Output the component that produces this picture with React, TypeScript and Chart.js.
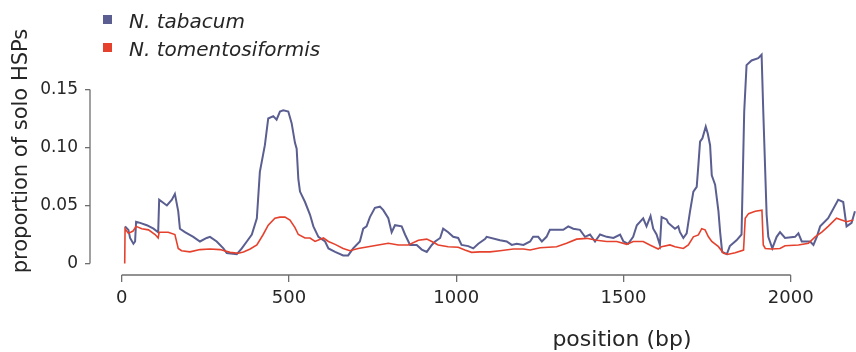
import React, { useEffect, useRef } from "react";
import { Chart, registerables } from "chart.js";

Chart.register(...registerables);

// N. tabacum: position (bp) and proportion of solo HSPs
const tabacumPos = [10,20,25,35,40,43,55,75,95,109,112,135,150,159,169,174,189,214,234,254,264,284,304,314,344,359,374,389,404,413,428,438,453,463,473,483,498,508,518,523,528,533,548,563,573,588,608,618,638,662,677,692,712,722,732,742,757,772,782,797,807,817,837,847,862,882,897,912,927,937,952,961,976,991,1006,1016,1036,1051,1066,1086,1091,1131,1151,1166,1181,1201,1221,1230,1245,1256,1270,1280,1300,1320,1335,1350,1370,1385,1400,1415,1430,1450,1470,1490,1500,1514,1529,1540,1559,1569,1581,1589,1599,1609,1614,1629,1634,1654,1664,1669,1679,1689,1699,1709,1719,1724,1729,1736,1746,1752,1759,1764,1774,1784,1789,1795,1809,1818,1838,1853,1861,1868,1883,1903,1913,1918,1928,1933,1945,1958,1968,1983,2013,2023,2033,2058,2068,2078,2088,2112,2142,2157,2167,2182,2192];
const tabacumVal = [0.032,0.029,0.022,0.017,0.019,0.036,0.035,0.033,0.030,0.027,0.055,0.050,0.055,0.060,0.045,0.030,0.027,0.023,0.019,0.022,0.023,0.019,0.013,0.009,0.008,0.013,0.019,0.025,0.039,0.079,0.102,0.125,0.127,0.124,0.131,0.132,0.131,0.121,0.104,0.099,0.073,0.062,0.053,0.042,0.032,0.023,0.019,0.013,0.010,0.007,0.007,0.013,0.019,0.030,0.032,0.040,0.048,0.049,0.046,0.039,0.027,0.033,0.032,0.025,0.016,0.016,0.012,0.010,0.016,0.019,0.022,0.030,0.027,0.023,0.022,0.016,0.015,0.013,0.017,0.021,0.023,0.020,0.019,0.016,0.017,0.016,0.019,0.023,0.023,0.019,0.023,0.029,0.029,0.029,0.032,0.030,0.029,0.023,0.025,0.019,0.025,0.023,0.022,0.025,0.019,0.017,0.023,0.033,0.039,0.032,0.041,0.030,0.025,0.016,0.040,0.038,0.035,0.030,0.032,0.027,0.022,0.026,0.045,0.062,0.066,0.085,0.105,0.108,0.118,0.112,0.102,0.076,0.068,0.045,0.027,0.010,0.008,0.015,0.020,0.025,0.131,0.171,0.175,0.177,0.180,0.131,0.042,0.023,0.013,0.023,0.027,0.022,0.023,0.026,0.019,0.019,0.016,0.023,0.032,0.039,0.055,0.053,0.032,0.035,0.045];

// N. tomentosiformis
const tomentPos = [9,10,20,34,43,60,80,100,109,112,139,159,169,179,204,234,264,294,324,349,364,384,404,423,438,458,473,488,503,518,528,548,563,578,603,618,638,662,682,707,737,767,797,827,857,887,912,927,946,976,1006,1026,1046,1071,1101,1131,1171,1201,1221,1251,1300,1330,1360,1390,1420,1450,1480,1510,1529,1559,1579,1604,1614,1639,1654,1679,1694,1709,1724,1734,1744,1754,1764,1784,1799,1814,1834,1859,1864,1874,1894,1914,1918,1924,1943,1968,1983,2023,2053,2073,2093,2112,2137,2152,2167,2187];
const tomentVal = [0,0.030,0.026,0.028,0.032,0.030,0.029,0.025,0.022,0.027,0.027,0.025,0.013,0.011,0.010,0.012,0.0125,0.012,0.0096,0.0088,0.010,0.0125,0.016,0.025,0.033,0.039,0.040,0.040,0.0375,0.031,0.025,0.022,0.022,0.019,0.022,0.019,0.0165,0.013,0.011,0.013,0.0145,0.016,0.0174,0.016,0.016,0.020,0.021,0.019,0.016,0.0145,0.014,0.0116,0.0096,0.010,0.010,0.011,0.0125,0.0125,0.0116,0.0136,0.0145,0.0174,0.021,0.0217,0.020,0.019,0.019,0.0165,0.019,0.019,0.016,0.0125,0.0145,0.016,0.0145,0.013,0.016,0.023,0.0246,0.030,0.029,0.023,0.019,0.0145,0.0088,0.008,0.0093,0.0116,0.039,0.043,0.045,0.046,0.016,0.013,0.0125,0.013,0.0153,0.016,0.0174,0.023,0.027,0.032,0.039,0.0375,0.036,0.0375];

const xTicks = [0, 500, 1000, 1500, 2000];
const yTicks = [0, 0.05, 0.1, 0.15];
const seriesNames = ["N. tabacum", "N. tomentosiformis"];
const seriesColors = ["#5a5e90", "#e5412d"];

const AXIS_COLOR = "#6e6e6e";
const TEXT_COLOR = "#262626";
const FONT = "'DejaVu Sans', sans-serif";

const rAxesPlugin = {
  id: "rAxes",
  afterDraw(chart: any) {
    const { ctx, scales } = chart;
    const xs = scales.x;
    const ys = scales.y;
    ctx.save();
    ctx.strokeStyle = AXIS_COLOR;
    ctx.lineWidth = 1.3;
    // y axis line spanning tick range
    const ax = chart.chartArea.left;
    ctx.beginPath();
    ctx.moveTo(ax, ys.getPixelForValue(yTicks[0]));
    ctx.lineTo(ax, ys.getPixelForValue(yTicks[yTicks.length - 1]));
    ctx.stroke();
    // x axis line spanning tick range
    const ay = chart.chartArea.bottom;
    ctx.beginPath();
    ctx.moveTo(xs.getPixelForValue(xTicks[0]), ay);
    ctx.lineTo(xs.getPixelForValue(xTicks[xTicks.length - 1]), ay);
    ctx.stroke();

    // axis titles
    ctx.fillStyle = TEXT_COLOR;
    ctx.textAlign = "center";
    ctx.textBaseline = "middle";
    ctx.font = `21px ${FONT}`;
    ctx.save();
    ctx.translate(22, 151);
    ctx.rotate(-Math.PI / 2);
    ctx.fillText("proportion of solo HSPs", 0, 0);
    ctx.restore();
    ctx.font = `22px ${FONT}`;
    ctx.fillText("position (bp)", 622, 340);

    // legend
    ctx.textAlign = "left";
    ctx.textBaseline = "alphabetic";
    ctx.font = `italic 20px ${FONT}`;
    seriesNames.forEach((name, i) => {
      const cy = 19.5 + i * 28;
      ctx.fillStyle = seriesColors[i];
      ctx.fillRect(103, cy - 4.5, 9, 9);
      ctx.fillStyle = TEXT_COLOR;
      ctx.fillText(name, 129, cy + 8);
    });
    ctx.restore();
  },
};

export default function App() {
  const ref = useRef<HTMLCanvasElement | null>(null);
  useEffect(() => {
    if (!ref.current) return;
    const chart = new Chart(ref.current, {
      type: "line",
      data: {
        datasets: [
          {
            label: seriesNames[0],
            data: tabacumPos.map((x, i) => ({ x, y: tabacumVal[i] })),
            borderColor: seriesColors[0],
            borderWidth: 2,
            pointRadius: 0,
            tension: 0,
            fill: false,
            order: 2,
          },
          {
            label: seriesNames[1],
            data: tomentPos.map((x, i) => ({ x, y: tomentVal[i] })),
            borderColor: seriesColors[1],
            borderWidth: 1.6,
            pointRadius: 0,
            tension: 0,
            fill: false,
            order: 1,
          },
        ],
      },
      options: {
        responsive: false,
        animation: false,
        layout: { padding: { top: 50, right: 0, left: 0, bottom: 0 } },
        plugins: { legend: { display: false }, tooltip: { enabled: false } },
        scales: {
          x: {
            type: "linear",
            min: -94.8,
            max: 2195.2,
            afterBuildTicks: (s: any) => {
              s.ticks = xTicks.map((v) => ({ value: v }));
            },
            afterFit: (s: any) => {
              s.height = 77;
            },
            border: { display: false },
            grid: {
              drawOnChartArea: false,
              drawTicks: true,
              tickLength: 7,
              color: AXIS_COLOR,
              lineWidth: 1.3,
            },
            ticks: {
              padding: 6,
              maxRotation: 0,
              autoSkip: false,
              color: TEXT_COLOR,
              font: { family: FONT, size: 18 },
              callback: (v: any) => String(v),
            },
          },
          y: {
            type: "linear",
            min: -0.00991,
            max: 0.18405,
            afterBuildTicks: (s: any) => {
              s.ticks = yTicks.map((v) => ({ value: v }));
            },
            afterFit: (s: any) => {
              s.width = 90;
            },
            border: { display: false },
            grid: {
              drawOnChartArea: false,
              drawTicks: true,
              tickLength: 5,
              color: AXIS_COLOR,
              lineWidth: 1.3,
            },
            ticks: {
              padding: 7,
              autoSkip: false,
              color: TEXT_COLOR,
              font: { family: FONT, size: 17 },
              callback: (v: any) => (v === 0 ? "0" : Number(v).toFixed(2)),
            },
          },
        },
      },
      plugins: [rAxesPlugin],
    });
    return () => chart.destroy();
  }, []);
  return (
    <div style={{ position: "absolute", left: 0, top: 0, width: 856, height: 352, background: "#fff" }}>
      <canvas ref={ref} width={856} height={352} style={{ display: "block" }} />
    </div>
  );
}
